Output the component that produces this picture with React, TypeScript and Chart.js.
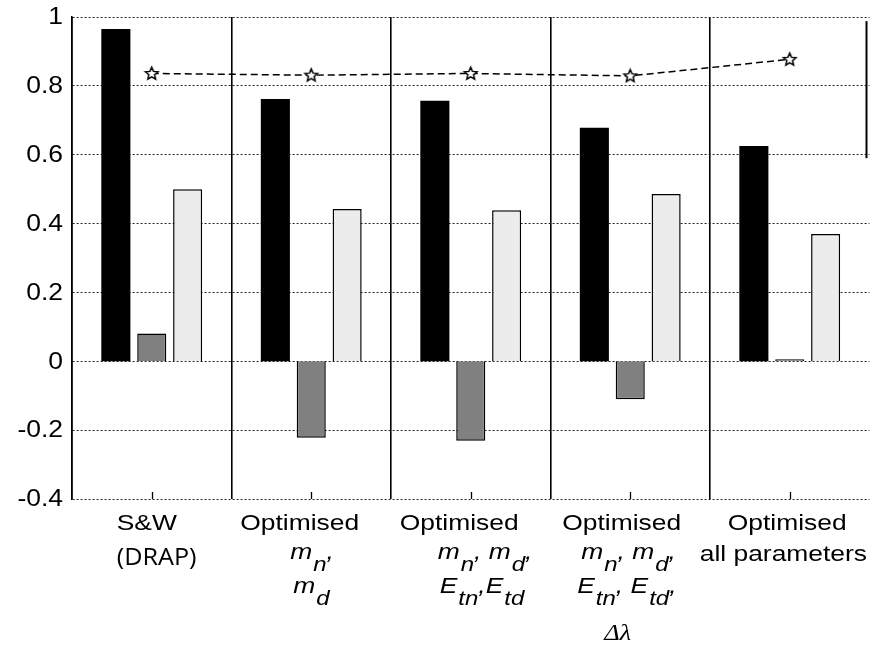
import { useEffect, useRef } from 'react';
import { Chart, registerables } from 'chart.js';

Chart.register(...registerables);

// ---- data ----
const categories = [
  'S&W (DRAP)',
  'Optimised mn, md',
  'Optimised mn, md, Etn, Etd',
  'Optimised mn, md, Etn, Etd, Δλ',
  'Optimised all parameters',
];
const blackSeries = [0.965, 0.762, 0.757, 0.678, 0.625];
const graySeries = [0.081, -0.222, -0.231, -0.11, 0.006];
const lightSeries = [0.5, 0.442, 0.439, 0.486, 0.37];
const starSeries = [0.836, 0.831, 0.836, 0.829, 0.877];
const yTickValues = [1, 0.8, 0.6, 0.4, 0.2, 0, -0.2, -0.4];
const yTickLabels = ['1', '0.8', '0.6', '0.4', '0.2', '0', '-0.2', '-0.4'];

// Multi-line category captions; "_{...}" marks a subscript.
const categoryLines: string[][] = [
  ['S&W', '(DRAP)'],
  ['Optimised', 'm_{n},', 'm_{d}'],
  ['Optimised', 'm_{n}, m_{d},', 'E_{tn},E_{td}'],
  ['Optimised', 'm_{n}, m_{d},', 'E_{tn}, E_{td},', 'Δλ'],
  ['Optimised', 'all parameters'],
];

// ---- layout of the caption lines: [left offset from category centre, baseline below axis] ----
const captionLayout: [number, number][][] = [
  [[-35, 31], [-35, 66]],
  [[-71, 31], [-21, 60], [-18, 94]],
  [[-71, 31], [-33, 60], [-31, 94]],
  [[-68, 31], [-49, 60], [-53, 94], [-26, 141]],
  [[-62, 31], [-90, 62]],
];

const SX = 1.2; // horizontal text stretch
const TEXT_FONT = '22px "Liberation Sans", Arial, sans-serif';
const PAREN_FONT = '24px "Open Sans", "DejaVu Sans", sans-serif';
const MATH_FONT = 'italic 22px "Liberation Sans", Arial, sans-serif';
const SUB_FONT = 'italic 20px "Liberation Sans", Arial, sans-serif';
const GREEK_FONT = 'italic 24px "Liberation Serif", "Times New Roman", serif';
const YTICK_FONT = '23px "Liberation Sans", Arial, sans-serif';
const SUB_DROP = 12;

function drawStretched(
  ctx: CanvasRenderingContext2D,
  text: string,
  x: number,
  y: number,
  sx: number,
  align: CanvasTextAlign = 'left',
  baseline: CanvasTextBaseline = 'alphabetic'
): number {
  ctx.save();
  ctx.translate(x, y);
  ctx.scale(sx, 1);
  ctx.textAlign = align;
  ctx.textBaseline = baseline;
  ctx.fillText(text, 0, 0);
  const w = ctx.measureText(text).width * sx;
  ctx.restore();
  return w;
}

function drawMath(ctx: CanvasRenderingContext2D, src: string, x: number, y: number) {
  const parts = src.split(/(_\{[^}]*\})/).filter((p) => p.length > 0);
  let cx = x;
  for (const p of parts) {
    if (p.startsWith('_{')) {
      ctx.font = SUB_FONT;
      cx += 1;
      cx += drawStretched(ctx, p.slice(2, -1), cx, y + SUB_DROP, SX);
    } else {
      ctx.font = MATH_FONT;
      cx += drawStretched(ctx, p, cx, y, SX);
    }
  }
}

function makeStar(): HTMLCanvasElement {
  const c = document.createElement('canvas');
  c.width = 17;
  c.height = 17;
  const g = c.getContext('2d')!;
  const cx = 8.5;
  const cy = 8.8;
  const ro = 6.6;
  const ri = 3.0;
  g.beginPath();
  for (let k = 0; k < 10; k++) {
    const r = k % 2 === 0 ? ro : ri;
    const a = -Math.PI / 2 + (k * Math.PI) / 5;
    const px = cx + r * Math.cos(a);
    const py = cy + r * Math.sin(a);
    if (k === 0) g.moveTo(px, py);
    else g.lineTo(px, py);
  }
  g.closePath();
  g.fillStyle = '#fff';
  g.fill();
  g.lineWidth = 1.5;
  g.strokeStyle = '#000';
  g.stroke();
  return c;
}

const annotationsPlugin = {
  id: 'annotations',
  afterDraw(chart: any) {
    const { ctx, chartArea } = chart;
    const x = chart.scales.x;
    const y = chart.scales.y;
    ctx.save();
    ctx.fillStyle = '#000';
    ctx.strokeStyle = '#000';

    // y tick labels
    ctx.font = YTICK_FONT;
    yTickValues.forEach((v, i) => {
      drawStretched(ctx, yTickLabels[i], chartArea.left - 9, y.getPixelForValue(v) + 1, 1.15, 'right', 'middle');
    });

    // inward ticks on the bottom axis
    ctx.lineWidth = 1.3;
    categories.forEach((_, i) => {
      const px = Math.round(x.getPixelForValue(i)) + 0.5;
      ctx.beginPath();
      ctx.moveTo(px, chartArea.bottom);
      ctx.lineTo(px, chartArea.bottom - 7);
      ctx.stroke();
    });

    // short frame segment on the right
    ctx.lineWidth = 2;
    ctx.beginPath();
    ctx.moveTo(chartArea.right - 3, y.getPixelForValue(0.988));
    ctx.lineTo(chartArea.right - 3, y.getPixelForValue(0.59));
    ctx.stroke();

    // category captions
    categoryLines.forEach((lines, i) => {
      const cx = x.getPixelForValue(i);
      lines.forEach((line, j) => {
        const [dx, dy] = captionLayout[i][j];
        const lx = cx + dx;
        const ly = chartArea.bottom + dy;
        if (line.includes('_{')) {
          drawMath(ctx, line, lx, ly);
        } else if (line === 'Δλ') {
          ctx.font = GREEK_FONT;
          drawStretched(ctx, line, lx, ly, 1.1);
        } else if (line.startsWith('(')) {
          ctx.font = PAREN_FONT;
          drawStretched(ctx, line, lx, ly, 1.05);
        } else {
          ctx.font = TEXT_FONT;
          drawStretched(ctx, line, lx, ly, SX);
        }
      });
    });
    ctx.restore();
  },
};

export default function App() {
  const canvasRef = useRef<HTMLCanvasElement | null>(null);

  useEffect(() => {
    const canvas = canvasRef.current;
    if (!canvas) return;
    const star = makeStar();
    const chart = new Chart(canvas, {
      type: 'bar',
      data: {
        labels: categories,
        datasets: [
          {
            type: 'line',
            data: starSeries,
            borderColor: '#000',
            borderWidth: 1.5,
            borderDash: [7, 4],
            pointStyle: star as any,
            pointRadius: 7,
            fill: false,
            tension: 0,
            order: 0,
          } as any,
          {
            data: blackSeries,
            backgroundColor: '#000',
            borderColor: '#000',
            borderWidth: 0,
            order: 1,
          },
          {
            data: graySeries,
            backgroundColor: '#808080',
            borderColor: '#000',
            borderWidth: 1.5,
            order: 1,
          },
          {
            data: lightSeries,
            backgroundColor: '#ececec',
            borderColor: '#000',
            borderWidth: 1.5,
            order: 1,
          },
        ],
      },
      options: {
        responsive: false,
        animation: false,
        devicePixelRatio: 1,
        datasets: {
          bar: {
            categoryPercentage: 0.675,
            barPercentage: 0.81,
          },
        },
        layout: { padding: { left: 0, right: 8, top: 17, bottom: 0 } },
        plugins: {
          legend: { display: false },
          tooltip: { enabled: false },
        },
        scales: {
          x: {
            type: 'category',
            offset: true,
            ticks: { display: false },
            grid: {
              offset: true,
              drawTicks: false,
              lineWidth: 1.6,
              color: (c: any) => (c.type === 'tick' ? '#000' : 'rgba(0,0,0,0)'),
            },
            border: { display: false },
            afterFit: (scale: any) => {
              scale.height = 150;
            },
          },
          y: {
            min: -0.4,
            max: 1,
            ticks: { display: false, stepSize: 0.2 },
            grid: { drawTicks: false, color: '#222', lineWidth: 1 },
            border: { display: true, color: '#000', width: 1.6, dash: [2, 2] },
            afterFit: (scale: any) => {
              scale.width = 72;
            },
          },
        },
      },
      plugins: [annotationsPlugin],
    });
    return () => chart.destroy();
  }, []);

  return (
    <div style={{ position: 'absolute', left: 0, top: 0, width: 878, height: 649, background: '#fff' }}>
      <canvas ref={canvasRef} width={878} height={649} />
    </div>
  );
}
